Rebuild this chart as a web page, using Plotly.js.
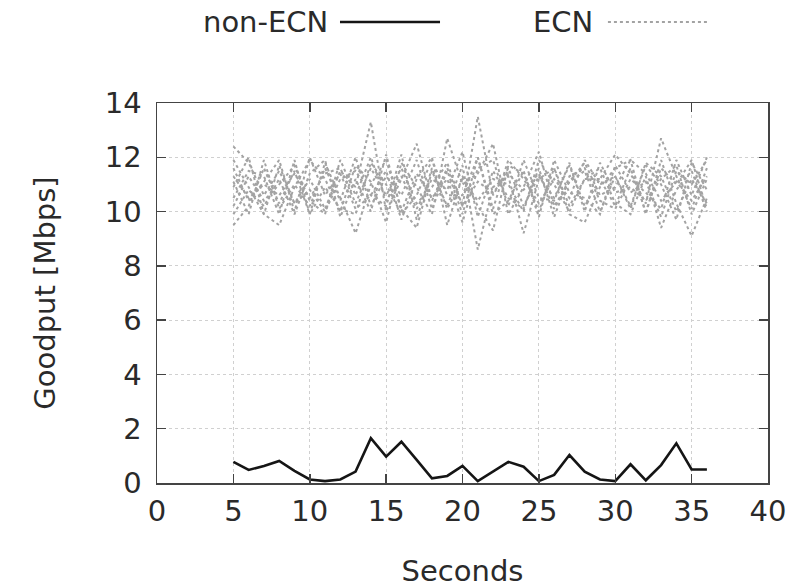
<!DOCTYPE html>
<html>
<head>
<meta charset="utf-8">
<script src="https://cdn.plot.ly/plotly-3.0.1.min.js"></script>
<style>html,body{margin:0;padding:0;background:#fff;}#chart{width:809px;height:588px;}</style>
</head>
<body>
<div id="chart"></div>
<script>
const seconds = [5,6,7,8,9,10,11,12,13,14,15,16,17,18,19,20,21,22,23,24,25,26,27,28,29,30,31,32,33,34,35,36];

const nonEcn = [0.78,0.48,0.63,0.81,0.45,0.13,0.07,0.13,0.42,1.65,0.97,1.52,0.85,0.17,0.26,0.63,0.07,0.44,0.78,0.6,0.07,0.3,1.03,0.42,0.13,0.07,0.69,0.1,0.66,1.46,0.5,0.5];

const ecn1 = [12.4,11.8,10.6,11.5,10.3,11.2,10.1,11.5,10.9,13.3,10.0,11.2,12.5,10.4,11.6,10.2,13.5,10.6,11.6,10.2,11.3,10.5,11.7,10.2,11.2,12.1,11.4,10.3,12.7,11.3,10.1,11.6];
const ecn2 = [9.5,10.2,11.6,10.3,11.5,9.9,11.8,10.5,9.2,11.0,11.9,10.1,9.4,11.5,10.2,11.7,8.6,10.9,11.3,9.2,11.2,11.6,10.2,11.2,11.6,10.3,9.9,11.3,9.4,10.8,11.5,10.0];
const ecn3 = [10.9,12.0,9.9,9.5,10.9,11.9,11.2,10.0,11.7,11.1,9.6,11.8,10.9,9.9,12.7,11.0,11.4,12.5,9.9,10.9,12.2,10.2,11.1,11.5,10.0,11.3,10.2,11.7,11.0,9.7,11.8,10.8];
const ecn4 = [11.6,10.4,11.1,11.9,10.0,12.0,10.6,11.4,10.1,10.6,11.5,9.7,11.2,12.0,9.5,11.3,10.2,9.3,11.7,11.4,10.0,11.6,9.9,9.6,10.9,11.6,11.9,9.9,11.9,10.3,9.1,10.5];
const ecn5 = [10.2,11.3,10.4,11.0,11.7,10.4,9.9,11.9,10.6,12.0,10.4,11.3,10.1,11.2,10.8,12.2,9.8,11.5,10.5,10.1,11.6,9.8,11.3,11.6,10.4,10.1,11.2,10.7,10.1,11.9,10.6,12.0];
const ecn6 = [11.1,9.9,11.9,10.1,11.0,10.2,11.6,10.4,12.0,10.2,11.3,10.6,11.9,10.1,11.5,9.9,12.0,10.1,11.9,11.2,10.3,11.2,10.5,11.9,11.0,11.3,10.1,11.8,11.3,10.0,11.2,10.3];
const ecn7 = [9.9,10.8,10.2,11.2,9.9,11.4,11.9,9.8,11.2,10.0,12.1,10.0,11.4,10.5,11.2,9.6,11.6,11.9,10.2,11.9,10.5,10.4,11.8,10.0,11.8,10.7,10.9,10.4,11.2,11.7,9.9,11.2];
const ecn8 = [11.9,10.9,9.9,11.7,10.3,10.8,10.0,11.2,11.5,10.6,10.2,12.1,9.7,11.6,10.1,11.2,10.4,11.2,11.0,10.0,11.9,11.0,10.0,11.2,11.2,10.2,11.6,10.0,11.6,11.0,11.9,10.1];
const ecn9 = [10.5,11.5,11.3,9.9,11.9,9.9,10.9,10.1,9.9,11.8,11.0,9.9,10.6,11.9,10.6,10.6,12.0,9.9,10.4,11.5,9.8,11.9,10.7,10.5,9.9,11.7,10.7,11.1,9.8,11.5,11.0,11.9];
const ecn10 = [11.3,10.5,11.0,10.6,11.4,10.5,11.4,11.6,10.3,11.6,10.6,11.6,10.3,10.9,11.8,10.2,11.1,10.7,11.4,10.8,11.4,10.1,11.1,11.8,10.6,10.9,11.9,11.4,10.4,11.1,10.4,11.3];

const ecnSeries = [ecn1,ecn2,ecn3,ecn4,ecn5,ecn6,ecn7,ecn8,ecn9,ecn10];

const xTicks = [0,5,10,15,20,25,30,35,40];
const yTicks = [0,2,4,6,8,10,12,14];

const fontFam = 'DejaVu Sans, sans-serif';
const fsize = 29;
const txtColor = '#2a2a2a';

const traces = ecnSeries.map((s) => ({
  x: seconds, y: s, type: 'scatter', mode: 'lines', name: 'ECN', showlegend: false,
  line: {color: '#a3a3a3', width: 2, dash: 'dot'}
}));
traces.push({
  x: seconds, y: nonEcn, type: 'scatter', mode: 'lines', name: 'non-ECN', showlegend: false,
  line: {color: '#151515', width: 2.6}
});

const axisCommon = {
  showline: true, mirror: 'ticks', linecolor: '#444', linewidth: 1.5,
  ticks: 'inside', ticklen: 9, tickcolor: '#444', tickwidth: 1.5,
  showgrid: true, gridcolor: '#d0d0d0', griddash: 'dot', gridwidth: 1,
  zeroline: false, tickfont: {family: fontFam, size: fsize, color: txtColor}
};

const layout = {
  width: 809, height: 588,
  margin: {l: 157, r: 41, t: 103, b: 105},
  paper_bgcolor: '#fff', plot_bgcolor: '#fff',
  showlegend: false,
  xaxis: Object.assign({}, axisCommon, {
    range: [0, 40], tickvals: xTicks, ticktext: xTicks.map(String), ticklabelstandoff: 2,
    title: {text: 'Seconds', font: {family: fontFam, size: fsize, color: txtColor}, standoff: 36}
  }),
  yaxis: Object.assign({}, axisCommon, {
    range: [0, 14], tickvals: yTicks, ticktext: yTicks.map(String), ticklabelstandoff: 8,
    title: {text: 'Goodput [Mbps]', font: {family: fontFam, size: fsize, color: txtColor}, standoff: 40}
  }),
  annotations: [
    {xref: 'paper', yref: 'paper', x: 0.283, y: 1.213, xanchor: 'right', yanchor: 'middle',
     text: 'non-ECN', showarrow: false, font: {family: fontFam, size: fsize, color: txtColor}},
    {xref: 'paper', yref: 'paper', x: 0.717, y: 1.213, xanchor: 'right', yanchor: 'middle',
     text: 'ECN', showarrow: false, font: {family: fontFam, size: fsize, color: txtColor}}
  ],
  shapes: [
    {type: 'line', xref: 'paper', yref: 'paper', x0: 0.2995, x1: 0.4632, y0: 1.213, y1: 1.213,
     line: {color: '#151515', width: 2.6}},
    {type: 'line', xref: 'paper', yref: 'paper', x0: 0.738, x1: 0.902, y0: 1.213, y1: 1.213,
     line: {color: '#a3a3a3', width: 2, dash: 'dot'}}
  ]
};

Plotly.newPlot('chart', traces, layout, {displayModeBar: false, staticPlot: true});
</script>
</body>
</html>
